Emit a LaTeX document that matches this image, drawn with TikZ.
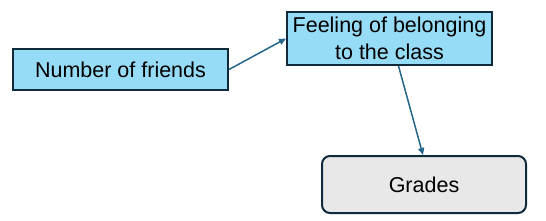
\documentclass[tikz,border=0pt]{standalone}
\usepackage{fontspec}
\setmainfont{Liberation Sans}
\usepackage{xcolor}
\usetikzlibrary{arrows.meta,positioning}
\definecolor{boxline}{HTML}{0E2A3B}
\definecolor{boxblue}{HTML}{97DCF6}
\definecolor{boxgray}{HTML}{E8E8E8}
\definecolor{linkblue}{HTML}{23668A}
\tikzset{
  varbox/.style={rectangle, draw=boxline, line width=2pt, fill=boxblue, align=center, inner sep=0pt, font=\fontsize{21.5}{27}\selectfont},
  outbox/.style={rectangle, rounded corners=8pt, draw=boxline, line width=2pt, fill=boxgray, align=center, inner sep=0pt, font=\fontsize{21.5}{27}\selectfont},
  linkarrow/.style={-{Triangle[length=7pt,width=6pt]}, line width=1.5pt, draw=linkblue}
}
\begin{document}
\begin{tikzpicture}[x=1pt,y=-1pt]
\useasboundingbox (0,0) rectangle (546,220);
\node[varbox, minimum width=215pt, minimum height=41pt] (friends) at (120.5,69.5) {Number of friends};
\node[varbox, minimum width=205pt, minimum height=53pt] (belong) at (389.5,38.5) {Feeling of belonging\\to the class};
\node[outbox, minimum width=204pt, minimum height=57pt] (grades) at (424,184.5) {Grades};
\draw[linkarrow] (friends.east) -- (belong.west);
\draw[linkarrow] ([xshift=9pt]belong.south) -- ([xshift=-1pt]grades.north);
\end{tikzpicture}
\end{document}
